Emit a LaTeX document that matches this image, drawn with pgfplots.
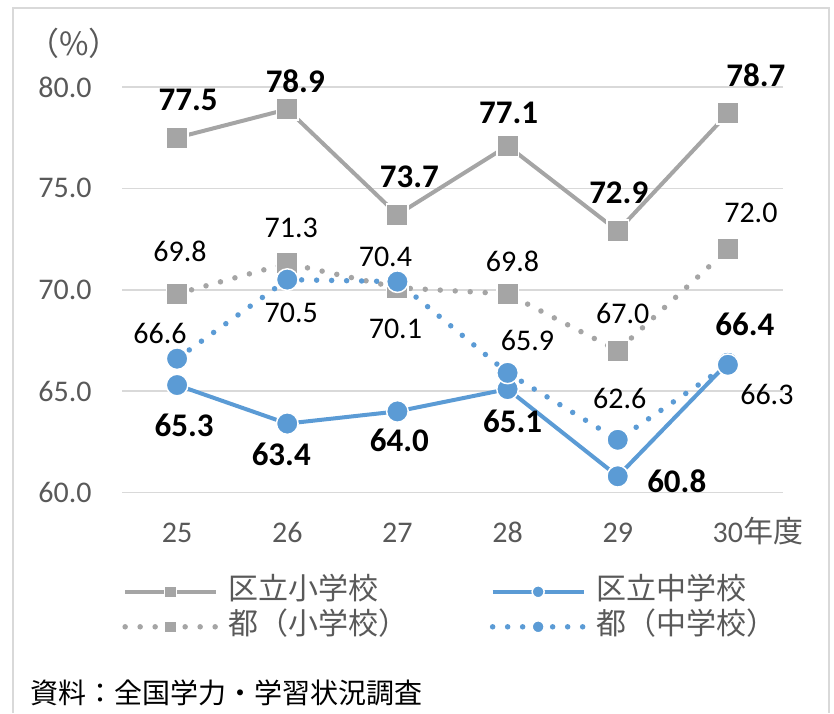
\documentclass[border=0pt]{standalone}
\usepackage{fontspec}
\setmainfont{Carlito}
\newfontfamily\jp{Noto Sans CJK JP}
\usepackage{pgfplots}
\pgfplotsset{compat=1.18}
\definecolor{kgray}{HTML}{A5A5A5}
\definecolor{kblue}{HTML}{5B9BD5}
\definecolor{gridc}{HTML}{D9D9D9}
\definecolor{txt}{HTML}{595959}

\begin{document}
\begin{tikzpicture}
\path[use as bounding box] (0,0) rectangle (417pt,356.5pt);
\draw[gridc, line width=0.75pt] (6.5pt,0) -- (6.5pt,352.5pt) -- (414.5pt,352.5pt) -- (414.5pt,0);
\begin{axis}[
  at={(61pt,110.25pt)}, anchor=south west,
  scale only axis, width=330.5pt, height=202.75pt,
  xmin=-0.5, xmax=5.5, ymin=60, ymax=80,
  xtick={0,...,5}, xticklabels={25,26,27,28,29,30\rlap{\jp 年度}},
  ytick={60,65,70,75,80},
  /pgf/number format/assume math mode=true,
  yticklabel={\pgfmathprintnumber[fixed,fixed zerofill,precision=1]{\tick}},
  ymajorgrids, grid style={gridc, line width=0.75pt},
  axis line style={draw=none}, major tick length=0pt,
  tick label style={font=\fontsize{15}{18}\selectfont, text=txt},
  yticklabel style={anchor=east, inner sep=0pt, xshift=-15pt},
  xticklabel style={anchor=base, inner sep=0pt, yshift=-25pt},
  clip=false,
  point meta=explicit symbolic,
  nodes near coords,
  visualization depends on={value \thisrow{dx}\as\dx},
  visualization depends on={value \thisrow{dy}\as\dy},
  every node near coord/.append style={anchor=center, inner sep=0pt, xshift=\dx pt, yshift=\dy pt, text=black, font=\fontsize{15}{18}\selectfont},
  legend columns=2,
  legend cell align=left,
  legend style={at={(0,0)}, anchor=north west, yshift=-42.45pt, draw=none, fill=none, inner sep=0pt,
    column sep=0pt, row sep=3.5pt, font=\jp\fontsize{15}{18}\selectfont, text=txt,
    nodes={inner sep=0pt, text height=11pt, text depth=3pt},
    /tikz/every odd column/.append style={column sep=5pt}},
  legend image code/.code={\draw[mark repeat=2, mark phase=2, #1] plot coordinates {(0pt,0pt) (22.75pt,0pt) (45.5pt,0pt)};},
  legend image post style={mark size=3pt},
]
% 区立小学校
\addplot[kgray, line width=2pt, mark=square*, mark size=5.4pt,
  mark options={fill=kgray, draw=white, line width=0.75pt, solid},
  every node near coord/.append style={font=\fontsize{16.5}{18}\selectfont\bfseries}]
  table[x=x, y=y, meta=y] {
x y dx dy
0 77.5 5.5 19
1 78.9 4 14
2 73.7 6 19
3 77.1 0.5 16.5
4 72.9 0.5 19
5 78.7 14 19
};
% 区立中学校
\addplot[kblue, line width=2pt, mark=*, mark size=5.4pt,
  mark options={fill=kblue, draw=white, line width=0.75pt, solid},
  every node near coord/.append style={font=\fontsize{16.5}{18}\selectfont\bfseries}]
  table[x=x, y=y, meta=y] {
x y dx dy
0 65.3 3.5 -20
1 63.4 -3 -15.5
2 64.0 1 -14.5
3 65.1 2.5 -16
4 60.8 29.5 -2.5
5 66.4 8.5 19
};
% 都（小学校）
\addplot[kgray, line width=2.75pt, line cap=round, dash pattern=on 0pt off 7.5pt, mark=square*, mark size=5.4pt,
  mark options={fill=kgray, draw=white, line width=0.75pt, solid}]
  table[x=x, y=y, meta=y] {
x y dx dy
0 69.8 1.5 21
1 71.3 2 18
2 70.1 -1 -20.5
3 69.8 2.5 16
4 67.0 2.5 18.5
5 72.0 11.5 18
};
% 都（中学校）
\addplot[kblue, line width=2.75pt, line cap=round, dash pattern=on 0pt off 7.5pt, mark=*, mark size=5.4pt,
  mark options={fill=kblue, draw=white, line width=0.75pt, solid}]
  table[x=x, y=y, meta=y] {
x y dx dy
0 66.6 -8.5 12.5
1 70.5 2 -16.5
2 70.4 -6 12.5
3 65.9 10 16
4 62.6 1 20.5
5 66.3 19.5 -15
};
\legend{\makebox[130.5pt][l]{区立小学校}, 区立中学校, 都（小学校）, 都（中学校）}
\end{axis}
\node[anchor=base west, inner sep=0pt, font=\jp\fontsize{14}{16}\selectfont, text=black] at (15pt,4.7pt) {資料：全国学力・学習状況調査};
\node[inner sep=0pt, font=\jp\fontsize{16}{18}\selectfont, text=txt] at (37pt,335pt) {（\%）};
\end{tikzpicture}
\end{document}
